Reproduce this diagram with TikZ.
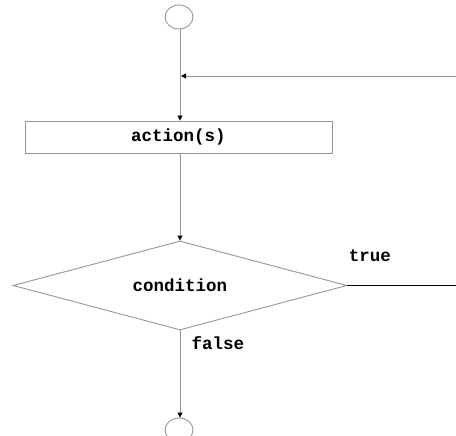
\documentclass[tikz,border=0pt]{standalone}
\usepackage{fontspec}
\setmonofont{Liberation Mono}
\usetikzlibrary{arrows.meta,shapes.geometric}
\definecolor{linegray}{RGB}{150,150,150}
\tikzset{
  txt/.style={font=\ttfamily\bfseries\fontsize{17.5}{19}\selectfont},
  lbl/.style={txt, inner sep=0pt},
  term/.style={ellipse, draw=linegray, line width=0.9pt, minimum width=28pt, minimum height=24pt, inner sep=0pt},
  actbox/.style={rectangle, draw=linegray, line width=0.9pt, minimum width=307pt, minimum height=32pt, inner sep=0pt, txt},
  decide/.style={diamond, aspect=3.75, draw=linegray, line width=0.9pt, minimum width=334pt, minimum height=89pt, inner sep=0pt, txt},
  conn/.style={draw=linegray, line width=0.9pt, -{Triangle[length=5pt,width=5pt,color=black]}},
}
\begin{document}
\begin{tikzpicture}[x=1pt,y=-1pt]
\useasboundingbox (0,0) rectangle (456,436);
\clip (0,0) rectangle (456,436);
\node[term] (start) at (179,17) {};
\node[actbox] (act) at (178.5,137) {action(s)};
\node[decide] (cond) at (180,285.5) {condition};
\node[term] (stop) at (179,430) {};
\coordinate (fbin) at (456,76);
\coordinate (fbend) at (181,76);
\coordinate (tout) at (456,285.5);
\node[lbl] (tl) at (370,256) {true};
\node[lbl] (fl) at (218,343) {false};
\draw[conn] (start.south -| cond.north) -- (act.north -| cond.north);
\draw[conn] (fbin) -- (fbend);
\draw[conn] (act.south -| cond.north) -- (cond.north);
\draw[conn] (cond.south) -- (stop.north -| cond.south);
\draw[black, line width=0.9pt] (cond.east) -- (tout);
\end{tikzpicture}
\end{document}
